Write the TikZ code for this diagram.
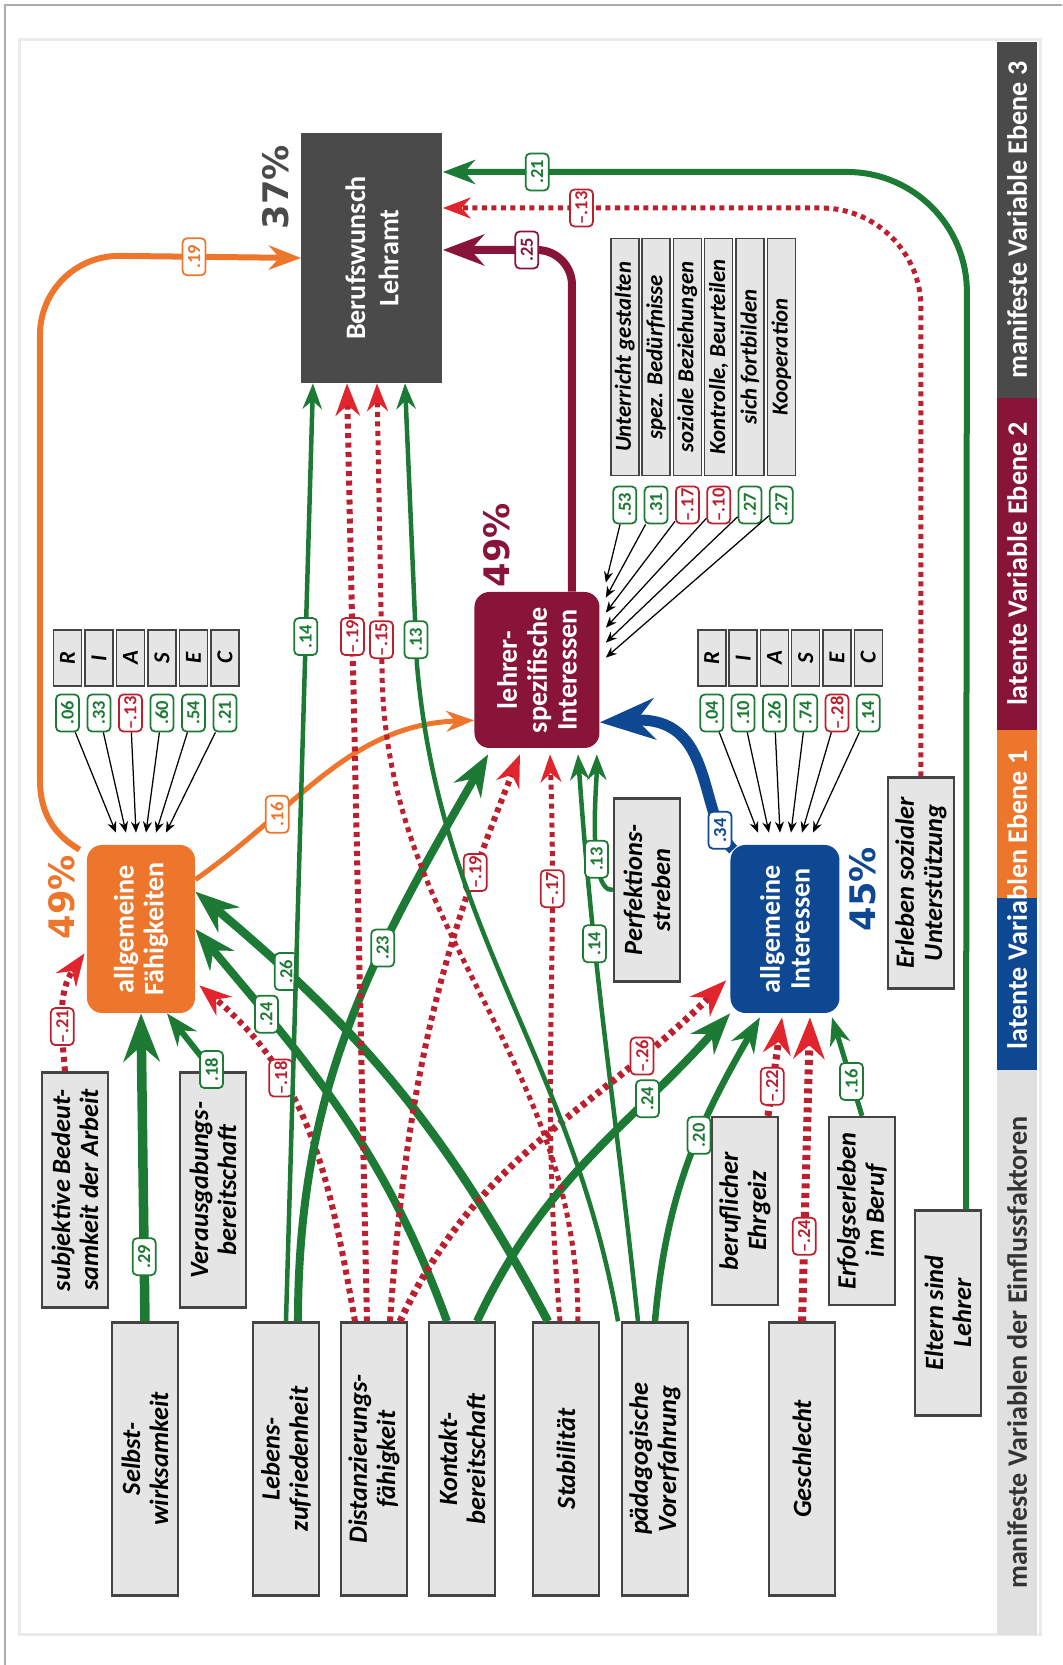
\documentclass[tikz,border=0pt]{standalone}
\usepackage{fontspec}
\setmainfont{Carlito}
\newfontfamily\pctfont{DejaVu Sans}
\usetikzlibrary{arrows.meta,calc}

\definecolor{grn}{RGB}{28,122,52}
\definecolor{rd}{RGB}{188,32,46}
\definecolor{rdhead}{RGB}{226,36,44}
\definecolor{orng}{RGB}{238,118,44}
\definecolor{mroon}{RGB}{136,20,56}
\definecolor{blu}{RGB}{14,72,146}
\definecolor{dgray}{RGB}{74,74,74}
\definecolor{boxfill}{RGB}{229,229,229}
\definecolor{boxline}{RGB}{68,68,68}
\definecolor{lgray}{RGB}{224,224,224}

\tikzset{
  mbox/.style={draw=boxline, fill=boxfill, line width=0.45mm, minimum height=13.2mm,
    inner sep=1mm, align=center, font=\fontsize{15}{16}\selectfont\bfseries\itshape},
  latent/.style={fill=#1, rounded corners=3mm, text=white, align=center, inner sep=1mm,
    font=\fontsize{16}{17}\selectfont\bfseries},
  ind/.style={draw=boxline, fill=boxfill, line width=0.3mm, inner sep=0pt,
    minimum height=5.6mm, font=\fontsize{13}{13}\selectfont\bfseries\itshape},
  pct/.style={text=#1, font=\pctfont\bfseries\fontsize{20}{20}\selectfont},
  cl/.style={solid, draw=#1, text=#1, fill=white, rounded corners=0.9mm, line width=0.35mm,
    inner sep=0.4mm, minimum width=7.4mm, minimum height=4.6mm,
    font=\fontsize{10.5}{10.5}\selectfont\bfseries},
  cpos/.style={cl=grn}, cneg/.style={cl=rd},
  arr/.style 2 args={draw=#1, line width=#2, -{Stealth}},
  gline/.style={arr={grn}{#1}},
  rline/.style={draw=rd, line width=#1, dash pattern=on 1mm off 0.9mm,
    -{Stealth[color=rdhead]}},
  fan/.style={line width=0.25mm, -{Stealth[length=2.2mm,width=1.8mm]}},
  lgnd/.style={fill=#1, minimum height=8mm, inner sep=0pt, text=white,
    font=\fontsize{16}{16}\selectfont\bfseries},
}

\begin{document}
\begin{tikzpicture}[x=0.2mm, y=0.2mm, rotate=90, transform shape]
\useasboundingbox (0,0) rectangle (1665,1062);
\draw[gray!65, line width=0.35mm] (0,1057) -- (1660,1057) -- (1660,0);
\draw[black!8, line width=0.6mm] (30,22) rectangle (1625,1042);

% levels
\node[lgnd=lgray, minimum width=113mm, text=black!80] (lg1) at (312.5,45) {manifeste Variablen der Einflussfaktoren};
\node[lgnd=blu, minimum width=34.4mm] (lg2) at (681,45) {};
\node[lgnd=orng, minimum width=33.6mm] (lg3) at (851,45) {};
\node[lgnd=none] (lg23) at (765,45) {latente Variablen Ebene 1};
\node[lgnd=mroon, minimum width=66.4mm] (lg4) at (1101,45) {latente Variable Ebene 2};
\node[lgnd=dgray, minimum width=71.2mm] (lg5) at (1445,45) {manifeste Variable Ebene 3};

% latent variables
\node[latent=dgray, sharp corners, minimum width=50mm, minimum height=28.2mm] (beruf) at (1407,690) {Berufswunsch\\[2pt]Lehramt};
\node[latent=mroon, minimum width=31.2mm, minimum height=25mm] (lehrer) at (995,525) {lehrer-\\spezifische\\Interessen};
\node[latent=orng, minimum width=33.6mm, minimum height=21.6mm] (faeh) at (736,921) {allgemeine\\Fähigkeiten};
\node[latent=blu, minimum width=33.6mm, minimum height=21.8mm] (inter) at (736,277) {allgemeine\\Interessen};
\node[pct=dgray] (p3) at (1478,786) {37\%};
\node[pct=mroon] (p2) at (1120,565) {49\%};
\node[pct=orng] (p1a) at (768,1000) {49\%};
\node[pct=blu] (p1b) at (776,199) {45\%};

% manifest variables
\node[mbox, minimum width=54.6mm] (selbst) at (206,917) {Selbst-\\wirksamkeit};
\node[mbox, minimum width=54.6mm] (lebens) at (206,776) {Lebens-\\zufriedenheit};
\node[mbox, minimum width=54.6mm] (distanz) at (206,688) {Distanzierungs-\\fähigkeit};
\node[mbox, minimum width=54.6mm] (kontakt) at (206,600) {Kontakt-\\bereitschaft};
\node[mbox, minimum width=54.6mm] (stab) at (206,496) {Stabilität};
\node[mbox, minimum width=54.6mm] (paed) at (206,407) {pädagogische\\Vorerfahrung};
\node[mbox, minimum width=54.6mm] (geschl) at (206,260) {Geschlecht};
\node[mbox, minimum width=41mm] (eltern) at (352,114) {Eltern sind\\Lehrer};
\node[mbox, minimum width=47mm] (subj) at (475,987) {subjektive Bedeut-\\samkeit der Arbeit};
\node[mbox, minimum width=47mm] (veraus) at (475,849) {Verausgabungs-\\bereitschaft};
\node[mbox, minimum width=37.6mm] (ehrgeiz) at (454,317) {beruflicher\\Ehrgeiz};
\node[mbox, minimum width=37.6mm] (erfolg) at (454,200) {Erfolgserleben\\im Beruf};
\node[mbox, minimum width=36.6mm] (perf) at (775,415) {Perfektions-\\streben};
\node[mbox, minimum width=42.2mm] (erleben) at (782,141) {Erleben sozialer\\Unterstützung};

% indicators
\foreach \txt/\val/\col [count=\i] in {R/.06/grn, I/.33/grn, A/–.13/rd, S/.60/grn, E/.54/grn, C/.21/grn}{
  \node[ind, minimum width=11.2mm] (fi\i) at (1007,1026-31.5*\i) {\txt};
  \node[cl=\col] (fw\i) at (952,1026-31.5*\i) {\val};
  \draw[fan] (fw\i) -- ($(faeh.east)+(12,35-10*\i)$);
}
\foreach \txt/\val/\col [count=\i] in {R/.04/grn, I/.10/grn, A/.26/grn, S/.74/grn, E/–.28/rd, C/.14/grn}{
  \node[ind, minimum width=11.2mm] (ii\i) at (1007,381.5-31.3*\i) {\txt};
  \node[cl=\col] (iw\i) at (952,381.5-31.3*\i) {\val};
  \draw[fan] (iw\i) -- ($(inter.east)+(12,38-11*\i)$);
}
\foreach \txt/\val/\col [count=\i] in {Unterricht gestalten/.53/grn, spez. Bedürfnisse/.31/grn, soziale Beziehungen/–.17/rd, {Kontrolle, Beurteilen}/–.10/rd, sich fortbilden/.27/grn, Kooperation/.27/grn}{
  \node[ind, minimum width=47.4mm] (li\i) at (1308,468.5-31.3*\i) {\txt};
  \node[cl=\col] (lw\i) at (1160,468.5-31.3*\i) {\val};
  \draw[fan] (lw\i) -- ($(lehrer.south east)+(24-15*\i,-6)$);
}

% paths to allgemeine Faehigkeiten
\draw[gline=1.9mm] (selbst.east) -- node[cpos,pos=.21]{.29} (faeh.west);
\draw[gline=1.2mm] (veraus.east) -- node[cpos,pos=.03]{.18} ($(faeh.west)+(0,-26)$);
\draw[rline=1.2mm] ($(subj.east)+(0,10)$) to[out=5,in=145] node[cneg,pos=.35]{–.21} ($(faeh.north west)+(60,2)$);
\draw[rline=1.2mm] ($(distanz.east)+(0,19)$) to[out=10,in=230] node[cneg,pos=.68]{–.18} ($(faeh.south west)+(28,-4)$);
\draw[gline=1.6mm] ($(kontakt.east)+(0,15)$) to[out=20,in=220] node[cpos,pos=.78]{.24} (faeh.south);
\draw[gline=1.7mm] ($(stab.east)+(0,18)$) to[out=28,in=230] node[cpos,pos=.8]{.26} ($(faeh.south east)+(-47,0)$);

% paths to lehrerspezifische Interessen
\draw[gline=1.6mm] ($(lebens.east)+(0,-12)$) to[out=0,in=150] node[cpos,pos=.65]{.23} ($(lehrer.north west)+(-6,-14)$);
\draw[rline=1.2mm] ($(distanz.east)+(0,-16)$) to[out=-4,in=158] node[cneg,pos=.8]{–.19} ($(lehrer.west)+(-6,17)$);
\draw[rline=1mm] ($(stab.east)+(0,6)$) to[out=5,in=182] node[cneg,pos=.78]{–.17} ($(lehrer.west)+(-6,-13)$);
\draw[gline=0.9mm] ($(paed.east)+(0,17)$) to[out=6,in=184] node[cpos,pos=.68]{.14} ($(lehrer.west)+(-6,-41)$);
\draw[gline=0.9mm] (perf.north) to[out=95,in=180,looseness=.5] node[cpos,pos=.35]{.13} ($(lehrer.south west)+(-6,3)$);
\draw[arr={orng}{1mm}] ($(faeh.south east)+(-35,0)$) to[out=-55,in=92] node[cl=orng,pos=.3]{.16} ($(lehrer.north west)+(28,0)$);
\draw[arr={blu}{2.2mm}] ($(inter.north east)+(-5,-3)$) .. controls (850,365) and (950,345) .. ($(lehrer.south west)+(26,0)$) node[cl=blu,pos=.15]{.34};

% paths to allgemeine Interessen
\draw[gline=1.6mm] ($(kontakt.east)+(0,-15)$) to[out=-25,in=138] node[cpos,pos=.72]{.24} (inter.north west);
\draw[rline=1.4mm] ($(distanz.east)+(0,-26)$) to[out=-25,in=135] node[cneg,pos=.78]{–.26} ($(inter.north west)+(33,4)$);
\draw[gline=1.3mm] (paed.east) to[out=-5,in=150] node[cpos,pos=.6]{.20} ($(inter.west)+(-4,25)$);
\draw[rline=1.4mm] ($(ehrgeiz.east)+(0,-23)$) -- node[cneg,pos=.3]{–.22} ($(inter.west)+(-4,3)$);
\draw[rline=1.6mm] (geschl.east) -- node[cneg,pos=.28]{–.24} ($(inter.west)+(-4,-25)$);
\draw[gline=1mm] (erfolg.east) -- node[cpos,pos=.35]{.16} ($(inter.west)+(-4,-47)$);

% paths to Berufswunsch
\draw[gline=0.9mm] (lebens.east) -- node[cpos,pos=.73]{.14} ($(beruf.west)+(0,59)$);
\draw[rline=1.2mm] ($(distanz.east)+(0,7)$) -- node[cneg,pos=.73]{–.19} ($(beruf.west)+(0,25)$);
\draw[rline=1mm] ($(stab.east)+(0,-12)$) to[out=0,in=180] (1000,680) -- node[cneg,pos=.09]{–.15} ($(beruf.west)+(0,-5)$);
\draw[gline=0.9mm] ($(paed.east)+(0,37)$) to[out=10,in=185] (1000,645) -- node[cpos,pos=.09]{.13} ($(beruf.west)+(0,-33)$);
\draw[arr={orng}{1.2mm}] ($(faeh.north east)+(-5,7)$) to[out=60,in=180] (885,1022) [rounded corners=16mm] -- (1410,1022) -- node[cl=orng,pos=.59]{.19} (beruf.north);
\draw[arr={mroon}{1.6mm}, rounded corners=7mm] ($(lehrer.east)+(0,-35)$) -- (1415,490) -- node[cl=mroon,pos=.35]{.25} ($(beruf.south)+(8,0)$);
\draw[rline=1mm, rounded corners=20mm] (erleben.east) -- (1457,141) -- node[cneg,pos=.71]{–.13} ($(beruf.south)+(50,0)$);
\draw[gline=1.2mm, rounded corners=24mm] ($(eltern.east)+(0,-18)$) -- (1493,95) -- node[cpos,pos=.82]{.21} ($(beruf.south)+(86,0)$);
\end{tikzpicture}
\end{document}
